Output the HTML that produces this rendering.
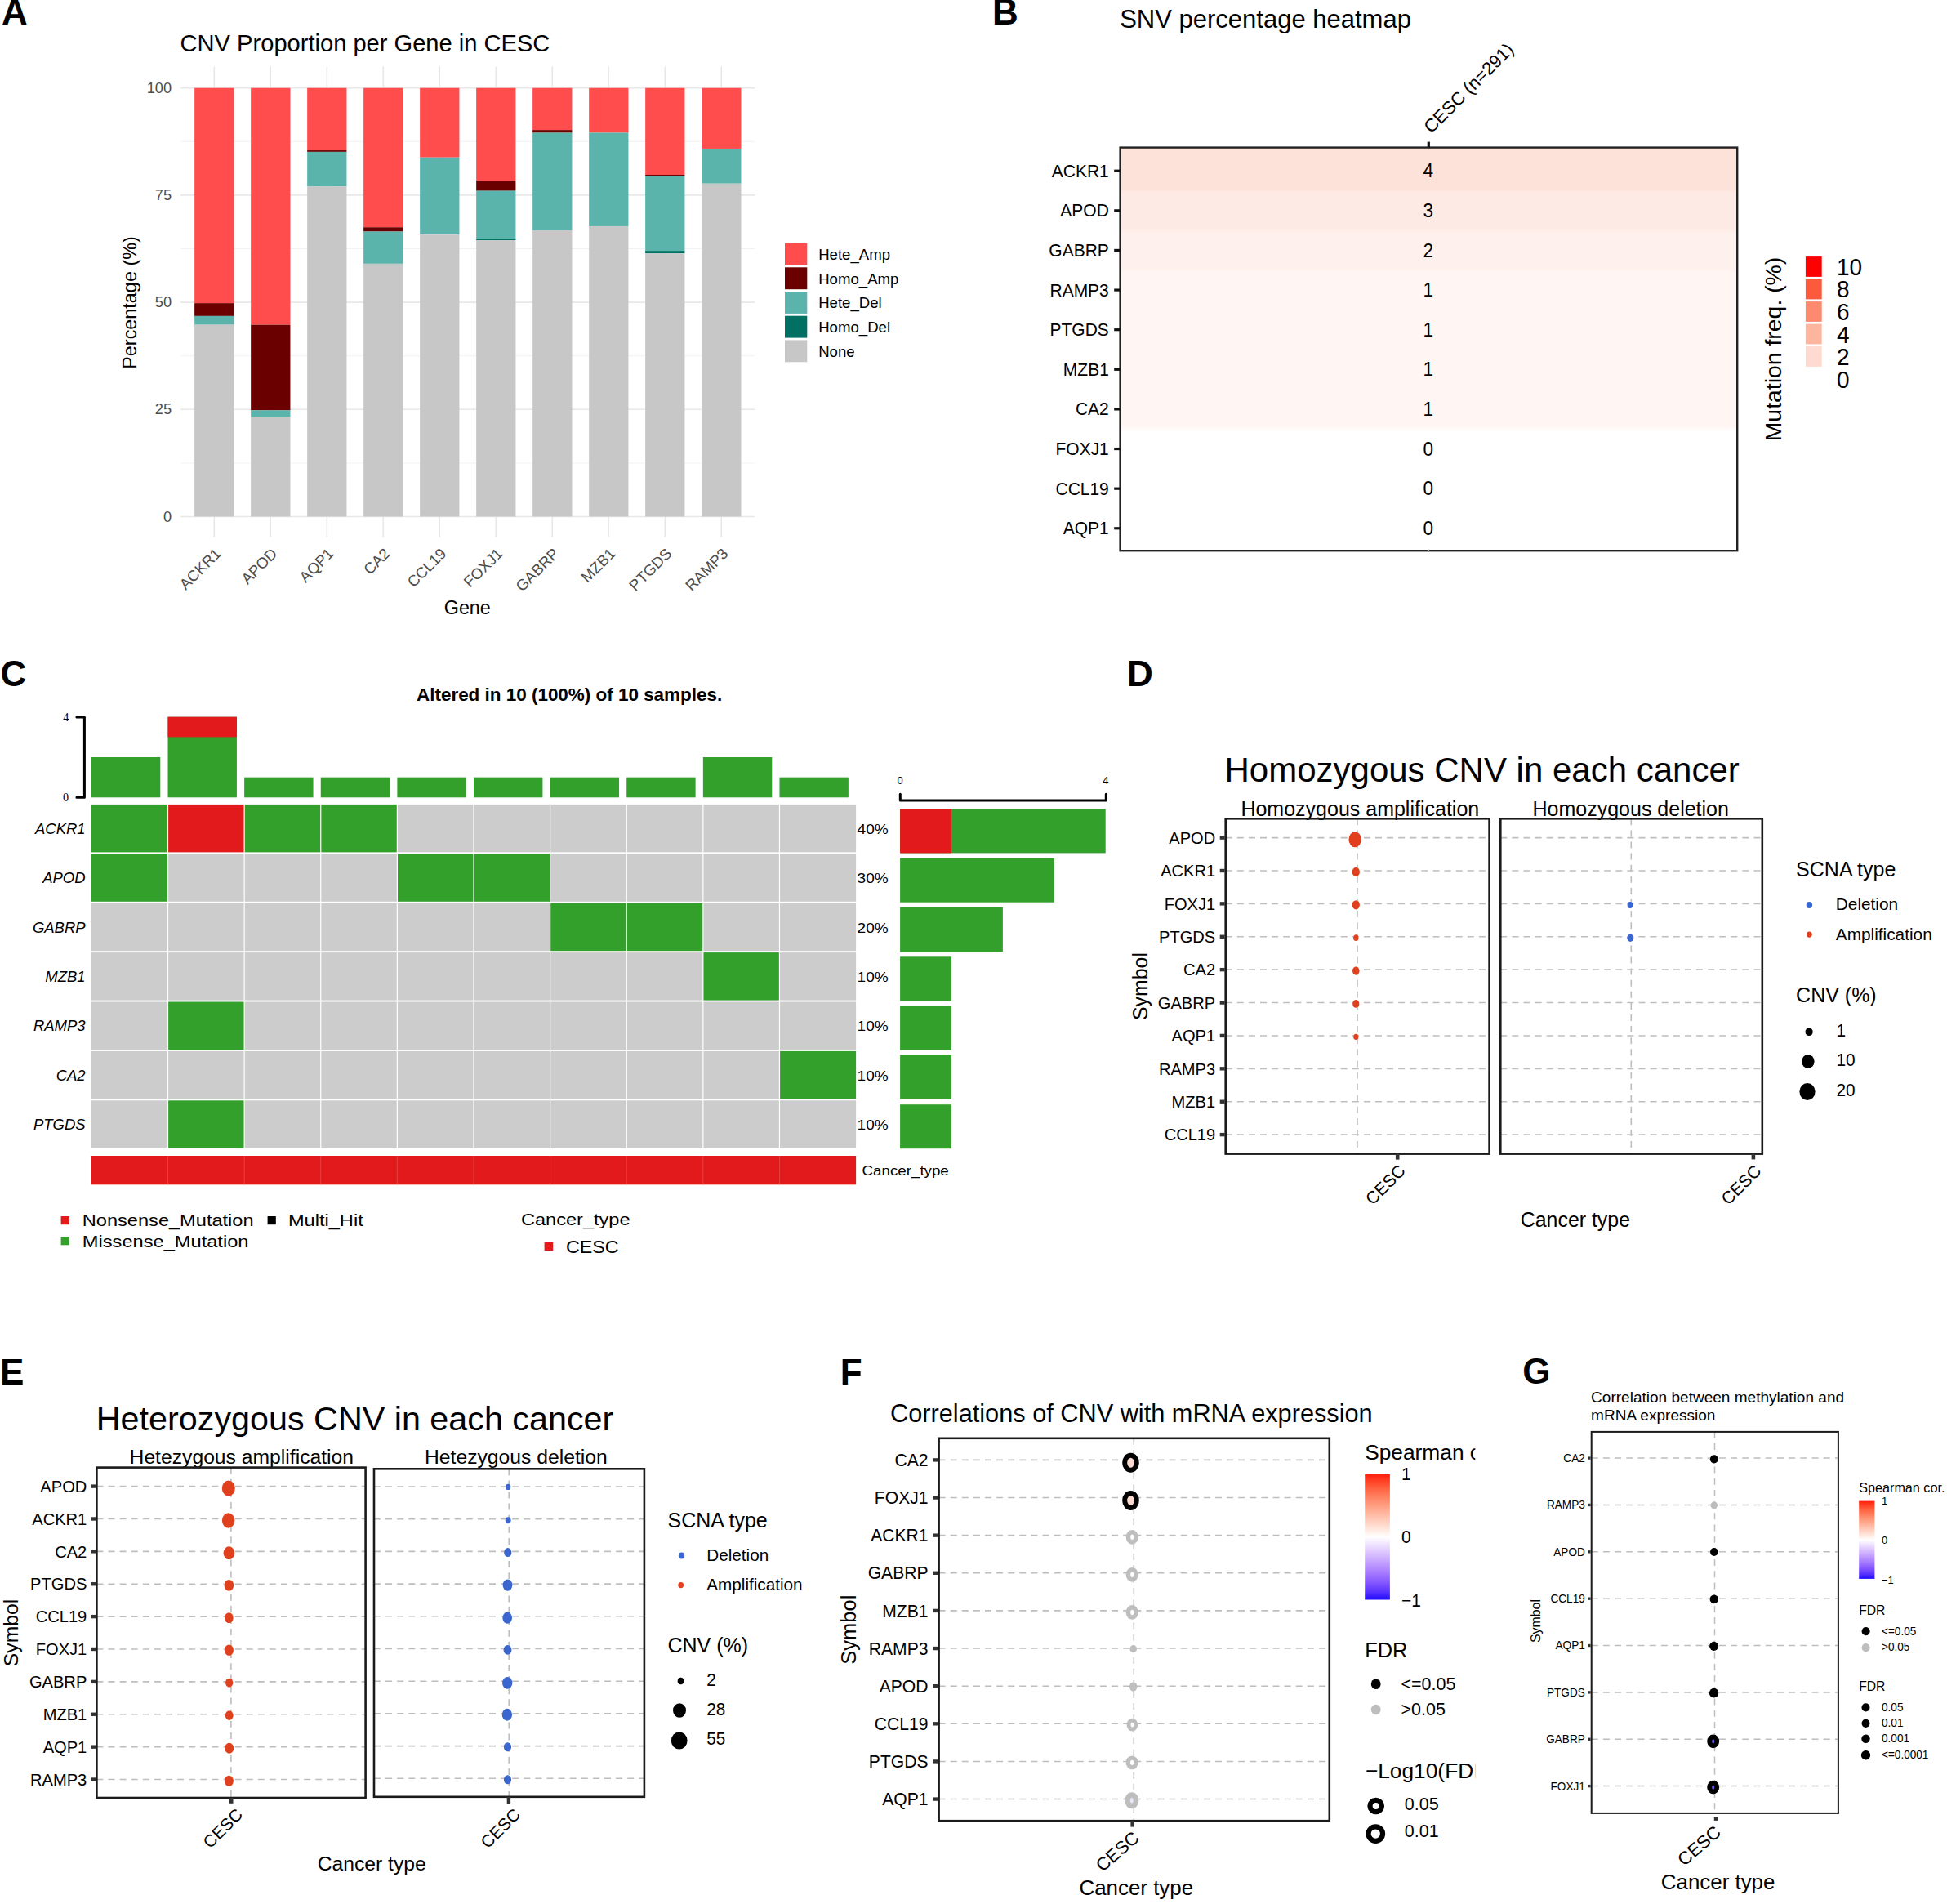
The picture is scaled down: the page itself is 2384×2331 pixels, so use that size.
<!DOCTYPE html>
<html lang="en">
<head>
<meta charset="utf-8">
<title>CNV / SNV / methylation summary in CESC</title>
<style>
html,body{margin:0;padding:0;background:#fff;}
body{width:2384px;height:2331px;overflow:hidden;}
svg{display:block;font-family:"Liberation Sans",Arial,Helvetica,sans-serif;}
</style>
</head>
<body>
<svg width="2384" height="2331" viewBox="0 0 2384 2331">
<rect x="0" y="0" width="2384" height="2331" fill="#FFFFFF"/>
<text x="2.05" y="29.7" font-size="44" font-weight="bold">A</text>
<text x="1215" y="29.7" font-size="44" font-weight="bold">B</text>
<text x="0.5" y="839.6" font-size="44" font-weight="bold">C</text>
<text x="1379.9" y="840" font-size="44" font-weight="bold">D</text>
<text x="0" y="1694.9" font-size="44" font-weight="bold">E</text>
<text x="1028.8" y="1694.9" font-size="44" font-weight="bold">F</text>
<text x="1864.3" y="1694.4" font-size="44" font-weight="bold">G</text>
<g id="panelA">
<text x="220.6" y="63" font-size="29.1">CNV Proportion per Gene in CESC</text>
<line x1="221" y1="566.9" x2="924.4" y2="566.9" stroke="#F0F0F0" stroke-width="0.9"/>
<line x1="221" y1="435.7" x2="924.4" y2="435.7" stroke="#F0F0F0" stroke-width="0.9"/>
<line x1="221" y1="304.5" x2="924.4" y2="304.5" stroke="#F0F0F0" stroke-width="0.9"/>
<line x1="221" y1="173.3" x2="924.4" y2="173.3" stroke="#F0F0F0" stroke-width="0.9"/>
<line x1="221" y1="632.5" x2="924.4" y2="632.5" stroke="#E8E8E8" stroke-width="1.6"/>
<line x1="221" y1="501.3" x2="924.4" y2="501.3" stroke="#E8E8E8" stroke-width="1.6"/>
<line x1="221" y1="370.1" x2="924.4" y2="370.1" stroke="#E8E8E8" stroke-width="1.6"/>
<line x1="221" y1="238.9" x2="924.4" y2="238.9" stroke="#E8E8E8" stroke-width="1.6"/>
<line x1="221" y1="107.7" x2="924.4" y2="107.7" stroke="#E8E8E8" stroke-width="1.6"/>
<line x1="262.3" y1="81.5" x2="262.3" y2="658" stroke="#E8E8E8" stroke-width="1.6"/>
<line x1="331.3" y1="81.5" x2="331.3" y2="658" stroke="#E8E8E8" stroke-width="1.6"/>
<line x1="400.3" y1="81.5" x2="400.3" y2="658" stroke="#E8E8E8" stroke-width="1.6"/>
<line x1="469.3" y1="81.5" x2="469.3" y2="658" stroke="#E8E8E8" stroke-width="1.6"/>
<line x1="538.3" y1="81.5" x2="538.3" y2="658" stroke="#E8E8E8" stroke-width="1.6"/>
<line x1="607.3" y1="81.5" x2="607.3" y2="658" stroke="#E8E8E8" stroke-width="1.6"/>
<line x1="676.3" y1="81.5" x2="676.3" y2="658" stroke="#E8E8E8" stroke-width="1.6"/>
<line x1="745.3" y1="81.5" x2="745.3" y2="658" stroke="#E8E8E8" stroke-width="1.6"/>
<line x1="814.3" y1="81.5" x2="814.3" y2="658" stroke="#E8E8E8" stroke-width="1.6"/>
<line x1="883.3" y1="81.5" x2="883.3" y2="658" stroke="#E8E8E8" stroke-width="1.6"/>
<rect x="238.15" y="107.7" width="48.3" height="263.45" fill="#FF4D4D"/>
<rect x="238.15" y="371.15" width="48.3" height="15.74" fill="#6B0000"/>
<rect x="238.15" y="386.89" width="48.3" height="10.76" fill="#5AB4AC"/>
<rect x="238.15" y="397.65" width="48.3" height="234.85" fill="#C7C7C7"/>
<rect x="307.15" y="107.7" width="48.3" height="289.95" fill="#FF4D4D"/>
<rect x="307.15" y="397.65" width="48.3" height="104.7" fill="#6B0000"/>
<rect x="307.15" y="502.35" width="48.3" height="7.87" fill="#5AB4AC"/>
<rect x="307.15" y="510.22" width="48.3" height="122.28" fill="#C7C7C7"/>
<rect x="376.15" y="107.7" width="48.3" height="76.36" fill="#FF4D4D"/>
<rect x="376.15" y="184.06" width="48.3" height="1.84" fill="#6B0000"/>
<rect x="376.15" y="185.9" width="48.3" height="42.51" fill="#5AB4AC"/>
<rect x="376.15" y="228.4" width="48.3" height="404.1" fill="#C7C7C7"/>
<rect x="445.15" y="107.7" width="48.3" height="170.56" fill="#FF4D4D"/>
<rect x="445.15" y="278.26" width="48.3" height="5.25" fill="#6B0000"/>
<rect x="445.15" y="283.51" width="48.3" height="39.36" fill="#5AB4AC"/>
<rect x="445.15" y="322.87" width="48.3" height="309.63" fill="#C7C7C7"/>
<rect x="514.15" y="107.7" width="48.3" height="85.02" fill="#FF4D4D"/>
<rect x="514.15" y="192.72" width="48.3" height="94.46" fill="#5AB4AC"/>
<rect x="514.15" y="287.18" width="48.3" height="345.32" fill="#C7C7C7"/>
<rect x="583.15" y="107.7" width="48.3" height="113.36" fill="#FF4D4D"/>
<rect x="583.15" y="221.06" width="48.3" height="12.6" fill="#6B0000"/>
<rect x="583.15" y="233.65" width="48.3" height="58.78" fill="#5AB4AC"/>
<rect x="583.15" y="292.43" width="48.3" height="1.84" fill="#017063"/>
<rect x="583.15" y="294.27" width="48.3" height="338.23" fill="#C7C7C7"/>
<rect x="652.15" y="107.7" width="48.3" height="51.43" fill="#FF4D4D"/>
<rect x="652.15" y="159.13" width="48.3" height="3.41" fill="#6B0000"/>
<rect x="652.15" y="162.54" width="48.3" height="119.39" fill="#5AB4AC"/>
<rect x="652.15" y="281.93" width="48.3" height="350.57" fill="#C7C7C7"/>
<rect x="721.15" y="107.7" width="48.3" height="54.84" fill="#FF4D4D"/>
<rect x="721.15" y="162.54" width="48.3" height="114.41" fill="#5AB4AC"/>
<rect x="721.15" y="276.95" width="48.3" height="355.55" fill="#C7C7C7"/>
<rect x="790.15" y="107.7" width="48.3" height="106.27" fill="#FF4D4D"/>
<rect x="790.15" y="213.97" width="48.3" height="1.84" fill="#6B0000"/>
<rect x="790.15" y="215.81" width="48.3" height="91.32" fill="#5AB4AC"/>
<rect x="790.15" y="307.12" width="48.3" height="3.15" fill="#017063"/>
<rect x="790.15" y="310.27" width="48.3" height="322.23" fill="#C7C7C7"/>
<rect x="859.15" y="107.7" width="48.3" height="74.26" fill="#FF4D4D"/>
<rect x="859.15" y="181.96" width="48.3" height="42.77" fill="#5AB4AC"/>
<rect x="859.15" y="224.73" width="48.3" height="407.77" fill="#C7C7C7"/>
<text transform="translate(210,638.5) scale(1,1.04)" font-size="18.2" text-anchor="end" fill="#4D4D4D">0</text>
<text transform="translate(210,507.3) scale(1,1.04)" font-size="18.2" text-anchor="end" fill="#4D4D4D">25</text>
<text transform="translate(210,376.1) scale(1,1.04)" font-size="18.2" text-anchor="end" fill="#4D4D4D">50</text>
<text transform="translate(210,244.9) scale(1,1.04)" font-size="18.2" text-anchor="end" fill="#4D4D4D">75</text>
<text transform="translate(210,113.7) scale(1,1.04)" font-size="18.2" text-anchor="end" fill="#4D4D4D">100</text>
<text transform="translate(271.6,678.9) rotate(-45)" font-size="18.7" text-anchor="end" fill="#4D4D4D">ACKR1</text>
<text transform="translate(340.6,678.9) rotate(-45)" font-size="18.7" text-anchor="end" fill="#4D4D4D">APOD</text>
<text transform="translate(409.6,678.9) rotate(-45)" font-size="18.7" text-anchor="end" fill="#4D4D4D">AQP1</text>
<text transform="translate(478.6,678.9) rotate(-45)" font-size="18.7" text-anchor="end" fill="#4D4D4D">CA2</text>
<text transform="translate(547.6,678.9) rotate(-45)" font-size="18.7" text-anchor="end" fill="#4D4D4D">CCL19</text>
<text transform="translate(616.6,678.9) rotate(-45)" font-size="18.7" text-anchor="end" fill="#4D4D4D">FOXJ1</text>
<text transform="translate(685.6,678.9) rotate(-45)" font-size="18.7" text-anchor="end" fill="#4D4D4D">GABRP</text>
<text transform="translate(754.6,678.9) rotate(-45)" font-size="18.7" text-anchor="end" fill="#4D4D4D">MZB1</text>
<text transform="translate(823.6,678.9) rotate(-45)" font-size="18.7" text-anchor="end" fill="#4D4D4D">PTGDS</text>
<text transform="translate(892.6,678.9) rotate(-45)" font-size="18.7" text-anchor="end" fill="#4D4D4D">RAMP3</text>
<text x="572.3" y="752" font-size="23.3" text-anchor="middle">Gene</text>
<text transform="translate(166.5,370.5) rotate(-90)" font-size="23.4" text-anchor="middle">Percentage (%)</text>
<rect x="961" y="297.6" width="27.3" height="26.9" fill="#FF4D4D"/>
<text x="1002.2" y="318" font-size="18.6">Hete_Amp</text>
<rect x="961" y="327.3" width="27.3" height="26.9" fill="#6B0000"/>
<text x="1002.2" y="347.7" font-size="18.6">Homo_Amp</text>
<rect x="961" y="357" width="27.3" height="26.9" fill="#5AB4AC"/>
<text x="1002.2" y="377.4" font-size="18.6">Hete_Del</text>
<rect x="961" y="386.7" width="27.3" height="26.9" fill="#017063"/>
<text x="1002.2" y="407.1" font-size="18.6">Homo_Del</text>
<rect x="961" y="416.4" width="27.3" height="26.9" fill="#C7C7C7"/>
<text x="1002.2" y="436.8" font-size="18.6">None</text>
</g>
<g id="panelB">
<text x="1371.2" y="33.8" font-size="31">SNV percentage heatmap</text>
<defs><linearGradient id="hm" x1="0" y1="0" x2="0" y2="1" gradientUnits="objectBoundingBox">
<stop offset="0%" stop-color="#FDE2DA"/>
<stop offset="10.11%" stop-color="#FDE2DA"/>
<stop offset="11.33%" stop-color="#FEEAE4"/>
<stop offset="19.96%" stop-color="#FEEAE4"/>
<stop offset="21.18%" stop-color="#FEF0EC"/>
<stop offset="29.81%" stop-color="#FEF0EC"/>
<stop offset="31.03%" stop-color="#FFF6F3"/>
<stop offset="39.66%" stop-color="#FFF6F3"/>
<stop offset="40.88%" stop-color="#FFF6F3"/>
<stop offset="49.51%" stop-color="#FFF6F3"/>
<stop offset="50.73%" stop-color="#FFF6F3"/>
<stop offset="59.36%" stop-color="#FFF6F3"/>
<stop offset="60.58%" stop-color="#FFF6F3"/>
<stop offset="69.21%" stop-color="#FFF6F3"/>
<stop offset="70.43%" stop-color="#FFFFFF"/>
<stop offset="79.06%" stop-color="#FFFFFF"/>
<stop offset="80.28%" stop-color="#FFFFFF"/>
<stop offset="88.91%" stop-color="#FFFFFF"/>
<stop offset="90.13%" stop-color="#FFFFFF"/>
<stop offset="100%" stop-color="#FFFFFF"/>
</linearGradient></defs>
<rect x="1371.6" y="180.6" width="755.6" height="493.6" fill="url(#hm)"/>
<rect x="1371.6" y="180.6" width="755.6" height="493.6" fill="none" stroke="#222" stroke-width="2.4"/>
<line x1="1364.2" y1="209.2" x2="1371.6" y2="209.2" stroke="#111" stroke-width="3.2"/>
<text transform="translate(1357.8,216.7) scale(1,1.04)" font-size="21" text-anchor="end">ACKR1</text>
<text transform="translate(1748.7,217.3) scale(1,1.04)" font-size="22.6" text-anchor="middle">4</text>
<line x1="1364.2" y1="257.82" x2="1371.6" y2="257.82" stroke="#111" stroke-width="3.2"/>
<text transform="translate(1357.8,265.32) scale(1,1.04)" font-size="21" text-anchor="end">APOD</text>
<text transform="translate(1748.7,265.92) scale(1,1.04)" font-size="22.6" text-anchor="middle">3</text>
<line x1="1364.2" y1="306.44" x2="1371.6" y2="306.44" stroke="#111" stroke-width="3.2"/>
<text transform="translate(1357.8,313.94) scale(1,1.04)" font-size="21" text-anchor="end">GABRP</text>
<text transform="translate(1748.7,314.54) scale(1,1.04)" font-size="22.6" text-anchor="middle">2</text>
<line x1="1364.2" y1="355.06" x2="1371.6" y2="355.06" stroke="#111" stroke-width="3.2"/>
<text transform="translate(1357.8,362.56) scale(1,1.04)" font-size="21" text-anchor="end">RAMP3</text>
<text transform="translate(1748.7,363.16) scale(1,1.04)" font-size="22.6" text-anchor="middle">1</text>
<line x1="1364.2" y1="403.68" x2="1371.6" y2="403.68" stroke="#111" stroke-width="3.2"/>
<text transform="translate(1357.8,411.18) scale(1,1.04)" font-size="21" text-anchor="end">PTGDS</text>
<text transform="translate(1748.7,411.78) scale(1,1.04)" font-size="22.6" text-anchor="middle">1</text>
<line x1="1364.2" y1="452.3" x2="1371.6" y2="452.3" stroke="#111" stroke-width="3.2"/>
<text transform="translate(1357.8,459.8) scale(1,1.04)" font-size="21" text-anchor="end">MZB1</text>
<text transform="translate(1748.7,460.4) scale(1,1.04)" font-size="22.6" text-anchor="middle">1</text>
<line x1="1364.2" y1="500.92" x2="1371.6" y2="500.92" stroke="#111" stroke-width="3.2"/>
<text transform="translate(1357.8,508.42) scale(1,1.04)" font-size="21" text-anchor="end">CA2</text>
<text transform="translate(1748.7,509.02) scale(1,1.04)" font-size="22.6" text-anchor="middle">1</text>
<line x1="1364.2" y1="549.54" x2="1371.6" y2="549.54" stroke="#111" stroke-width="3.2"/>
<text transform="translate(1357.8,557.04) scale(1,1.04)" font-size="21" text-anchor="end">FOXJ1</text>
<text transform="translate(1748.7,557.64) scale(1,1.04)" font-size="22.6" text-anchor="middle">0</text>
<line x1="1364.2" y1="598.16" x2="1371.6" y2="598.16" stroke="#111" stroke-width="3.2"/>
<text transform="translate(1357.8,605.66) scale(1,1.04)" font-size="21" text-anchor="end">CCL19</text>
<text transform="translate(1748.7,606.26) scale(1,1.04)" font-size="22.6" text-anchor="middle">0</text>
<line x1="1364.2" y1="646.78" x2="1371.6" y2="646.78" stroke="#111" stroke-width="3.2"/>
<text transform="translate(1357.8,654.28) scale(1,1.04)" font-size="21" text-anchor="end">AQP1</text>
<text transform="translate(1748.7,654.88) scale(1,1.04)" font-size="22.6" text-anchor="middle">0</text>
<line x1="1749.3" y1="173.6" x2="1749.3" y2="180.6" stroke="#111" stroke-width="3.2"/>
<line x1="1749.3" y1="672.5" x2="1749.3" y2="674.2" stroke="#bbb" stroke-width="1"/>
<text transform="translate(1752.52,164.19) rotate(-45)" font-size="22.13">CESC (n=291)</text>
<rect x="2210.9" y="314.1" width="19.8" height="24.8" fill="#FF0000"/>
<text transform="translate(2249,336.8) scale(1,1.04)" font-size="28">10</text>
<rect x="2210.9" y="341.6" width="19.8" height="24.8" fill="#FB5A3C"/>
<text transform="translate(2249,364.44) scale(1,1.04)" font-size="28">8</text>
<rect x="2210.9" y="369.1" width="19.8" height="24.8" fill="#FC8A6E"/>
<text transform="translate(2249,392.08) scale(1,1.04)" font-size="28">6</text>
<rect x="2210.9" y="396.6" width="19.8" height="24.8" fill="#FDB5A0"/>
<text transform="translate(2249,419.72) scale(1,1.04)" font-size="28">4</text>
<rect x="2210.9" y="424.1" width="19.8" height="24.8" fill="#FEDAD0"/>
<text transform="translate(2249,447.36) scale(1,1.04)" font-size="28">2</text>
<rect x="2210.9" y="451.6" width="19.8" height="24.8" fill="#FFFFFF"/>
<text transform="translate(2249,475) scale(1,1.04)" font-size="28">0</text>
<text transform="translate(2181.1,427.5) rotate(-90)" font-size="28.4" text-anchor="middle">Mutation freq. (%)</text>
</g>
<g id="panelC">
<text x="510" y="858.2" font-size="21.9" font-weight="bold" textLength="374.2" lengthAdjust="spacingAndGlyphs">Altered in 10 (100%) of 10 samples.</text>
<path d="M93.9 878H103.4V976.2H93.9" fill="none" stroke="#000" stroke-width="3" stroke-linejoin="round" stroke-linecap="round"/>
<text x="80.7" y="882.8" font-size="14.2" text-anchor="middle" font-family="Liberation Serif, serif">4</text>
<text x="80.6" y="980.5" font-size="14.2" text-anchor="middle" font-family="Liberation Serif, serif">0</text>
<rect x="111.9" y="927" width="84.4" height="49.3" fill="#33A02C"/>
<rect x="205.52" y="877.7" width="84.4" height="98.6" fill="#33A02C"/>
<rect x="205.52" y="877.7" width="84.4" height="24.65" fill="#E31A1C"/>
<rect x="299.14" y="951.65" width="84.4" height="24.65" fill="#33A02C"/>
<rect x="392.76" y="951.65" width="84.4" height="24.65" fill="#33A02C"/>
<rect x="486.38" y="951.65" width="84.4" height="24.65" fill="#33A02C"/>
<rect x="580" y="951.65" width="84.4" height="24.65" fill="#33A02C"/>
<rect x="673.62" y="951.65" width="84.4" height="24.65" fill="#33A02C"/>
<rect x="767.24" y="951.65" width="84.4" height="24.65" fill="#33A02C"/>
<rect x="860.86" y="927" width="84.4" height="49.3" fill="#33A02C"/>
<rect x="954.48" y="951.65" width="84.4" height="24.65" fill="#33A02C"/>
<rect x="111.9" y="984.9" width="93.02" height="58.5" fill="#33A02C"/>
<rect x="206.12" y="984.9" width="92.42" height="58.5" fill="#E31A1C"/>
<rect x="299.74" y="984.9" width="92.42" height="58.5" fill="#33A02C"/>
<rect x="393.36" y="984.9" width="92.42" height="58.5" fill="#33A02C"/>
<rect x="486.98" y="984.9" width="92.42" height="58.5" fill="#CCCCCC"/>
<rect x="580.6" y="984.9" width="92.42" height="58.5" fill="#CCCCCC"/>
<rect x="674.22" y="984.9" width="92.42" height="58.5" fill="#CCCCCC"/>
<rect x="767.84" y="984.9" width="92.42" height="58.5" fill="#CCCCCC"/>
<rect x="861.46" y="984.9" width="92.42" height="58.5" fill="#CCCCCC"/>
<rect x="955.08" y="984.9" width="93.02" height="58.5" fill="#CCCCCC"/>
<text transform="translate(104.6,1020.85) scale(1,1.04)" font-size="17.2" text-anchor="end" font-style="italic" textLength="61.65" lengthAdjust="spacingAndGlyphs">ACKR1</text>
<text transform="translate(1049.6,1020.85) scale(1,1.04)" font-size="16.2" textLength="38.2" lengthAdjust="spacingAndGlyphs">40%</text>
<rect x="111.9" y="1045.3" width="93.02" height="58.5" fill="#33A02C"/>
<rect x="206.12" y="1045.3" width="92.42" height="58.5" fill="#CCCCCC"/>
<rect x="299.74" y="1045.3" width="92.42" height="58.5" fill="#CCCCCC"/>
<rect x="393.36" y="1045.3" width="92.42" height="58.5" fill="#CCCCCC"/>
<rect x="486.98" y="1045.3" width="92.42" height="58.5" fill="#33A02C"/>
<rect x="580.6" y="1045.3" width="92.42" height="58.5" fill="#33A02C"/>
<rect x="674.22" y="1045.3" width="92.42" height="58.5" fill="#CCCCCC"/>
<rect x="767.84" y="1045.3" width="92.42" height="58.5" fill="#CCCCCC"/>
<rect x="861.46" y="1045.3" width="92.42" height="58.5" fill="#CCCCCC"/>
<rect x="955.08" y="1045.3" width="93.02" height="58.5" fill="#CCCCCC"/>
<text transform="translate(104.6,1081.25) scale(1,1.04)" font-size="17.2" text-anchor="end" font-style="italic" textLength="52.4" lengthAdjust="spacingAndGlyphs">APOD</text>
<text transform="translate(1049.6,1081.25) scale(1,1.04)" font-size="16.2" textLength="38.2" lengthAdjust="spacingAndGlyphs">30%</text>
<rect x="111.9" y="1105.7" width="93.02" height="58.5" fill="#CCCCCC"/>
<rect x="206.12" y="1105.7" width="92.42" height="58.5" fill="#CCCCCC"/>
<rect x="299.74" y="1105.7" width="92.42" height="58.5" fill="#CCCCCC"/>
<rect x="393.36" y="1105.7" width="92.42" height="58.5" fill="#CCCCCC"/>
<rect x="486.98" y="1105.7" width="92.42" height="58.5" fill="#CCCCCC"/>
<rect x="580.6" y="1105.7" width="92.42" height="58.5" fill="#CCCCCC"/>
<rect x="674.22" y="1105.7" width="92.42" height="58.5" fill="#33A02C"/>
<rect x="767.84" y="1105.7" width="92.42" height="58.5" fill="#33A02C"/>
<rect x="861.46" y="1105.7" width="92.42" height="58.5" fill="#CCCCCC"/>
<rect x="955.08" y="1105.7" width="93.02" height="58.5" fill="#CCCCCC"/>
<text transform="translate(104.6,1141.65) scale(1,1.04)" font-size="17.2" text-anchor="end" font-style="italic" textLength="64.73" lengthAdjust="spacingAndGlyphs">GABRP</text>
<text transform="translate(1049.6,1141.65) scale(1,1.04)" font-size="16.2" textLength="38.2" lengthAdjust="spacingAndGlyphs">20%</text>
<rect x="111.9" y="1166.1" width="93.02" height="58.5" fill="#CCCCCC"/>
<rect x="206.12" y="1166.1" width="92.42" height="58.5" fill="#CCCCCC"/>
<rect x="299.74" y="1166.1" width="92.42" height="58.5" fill="#CCCCCC"/>
<rect x="393.36" y="1166.1" width="92.42" height="58.5" fill="#CCCCCC"/>
<rect x="486.98" y="1166.1" width="92.42" height="58.5" fill="#CCCCCC"/>
<rect x="580.6" y="1166.1" width="92.42" height="58.5" fill="#CCCCCC"/>
<rect x="674.22" y="1166.1" width="92.42" height="58.5" fill="#CCCCCC"/>
<rect x="767.84" y="1166.1" width="92.42" height="58.5" fill="#CCCCCC"/>
<rect x="861.46" y="1166.1" width="92.42" height="58.5" fill="#33A02C"/>
<rect x="955.08" y="1166.1" width="93.02" height="58.5" fill="#CCCCCC"/>
<text transform="translate(104.6,1202.05) scale(1,1.04)" font-size="17.2" text-anchor="end" font-style="italic" textLength="49.31" lengthAdjust="spacingAndGlyphs">MZB1</text>
<text transform="translate(1049.6,1202.05) scale(1,1.04)" font-size="16.2" textLength="38.2" lengthAdjust="spacingAndGlyphs">10%</text>
<rect x="111.9" y="1226.5" width="93.02" height="58.5" fill="#CCCCCC"/>
<rect x="206.12" y="1226.5" width="92.42" height="58.5" fill="#33A02C"/>
<rect x="299.74" y="1226.5" width="92.42" height="58.5" fill="#CCCCCC"/>
<rect x="393.36" y="1226.5" width="92.42" height="58.5" fill="#CCCCCC"/>
<rect x="486.98" y="1226.5" width="92.42" height="58.5" fill="#CCCCCC"/>
<rect x="580.6" y="1226.5" width="92.42" height="58.5" fill="#CCCCCC"/>
<rect x="674.22" y="1226.5" width="92.42" height="58.5" fill="#CCCCCC"/>
<rect x="767.84" y="1226.5" width="92.42" height="58.5" fill="#CCCCCC"/>
<rect x="861.46" y="1226.5" width="92.42" height="58.5" fill="#CCCCCC"/>
<rect x="955.08" y="1226.5" width="93.02" height="58.5" fill="#CCCCCC"/>
<text transform="translate(104.6,1262.45) scale(1,1.04)" font-size="17.2" text-anchor="end" font-style="italic" textLength="63.7" lengthAdjust="spacingAndGlyphs">RAMP3</text>
<text transform="translate(1049.6,1262.45) scale(1,1.04)" font-size="16.2" textLength="38.2" lengthAdjust="spacingAndGlyphs">10%</text>
<rect x="111.9" y="1286.9" width="93.02" height="58.5" fill="#CCCCCC"/>
<rect x="206.12" y="1286.9" width="92.42" height="58.5" fill="#CCCCCC"/>
<rect x="299.74" y="1286.9" width="92.42" height="58.5" fill="#CCCCCC"/>
<rect x="393.36" y="1286.9" width="92.42" height="58.5" fill="#CCCCCC"/>
<rect x="486.98" y="1286.9" width="92.42" height="58.5" fill="#CCCCCC"/>
<rect x="580.6" y="1286.9" width="92.42" height="58.5" fill="#CCCCCC"/>
<rect x="674.22" y="1286.9" width="92.42" height="58.5" fill="#CCCCCC"/>
<rect x="767.84" y="1286.9" width="92.42" height="58.5" fill="#CCCCCC"/>
<rect x="861.46" y="1286.9" width="92.42" height="58.5" fill="#CCCCCC"/>
<rect x="955.08" y="1286.9" width="93.02" height="58.5" fill="#33A02C"/>
<text transform="translate(104.6,1322.85) scale(1,1.04)" font-size="17.2" text-anchor="end" font-style="italic" textLength="35.97" lengthAdjust="spacingAndGlyphs">CA2</text>
<text transform="translate(1049.6,1322.85) scale(1,1.04)" font-size="16.2" textLength="38.2" lengthAdjust="spacingAndGlyphs">10%</text>
<rect x="111.9" y="1347.3" width="93.02" height="58.5" fill="#CCCCCC"/>
<rect x="206.12" y="1347.3" width="92.42" height="58.5" fill="#33A02C"/>
<rect x="299.74" y="1347.3" width="92.42" height="58.5" fill="#CCCCCC"/>
<rect x="393.36" y="1347.3" width="92.42" height="58.5" fill="#CCCCCC"/>
<rect x="486.98" y="1347.3" width="92.42" height="58.5" fill="#CCCCCC"/>
<rect x="580.6" y="1347.3" width="92.42" height="58.5" fill="#CCCCCC"/>
<rect x="674.22" y="1347.3" width="92.42" height="58.5" fill="#CCCCCC"/>
<rect x="767.84" y="1347.3" width="92.42" height="58.5" fill="#CCCCCC"/>
<rect x="861.46" y="1347.3" width="92.42" height="58.5" fill="#CCCCCC"/>
<rect x="955.08" y="1347.3" width="93.02" height="58.5" fill="#CCCCCC"/>
<text transform="translate(104.6,1383.25) scale(1,1.04)" font-size="17.2" text-anchor="end" font-style="italic" textLength="63.7" lengthAdjust="spacingAndGlyphs">PTGDS</text>
<text transform="translate(1049.6,1383.25) scale(1,1.04)" font-size="16.2" textLength="38.2" lengthAdjust="spacingAndGlyphs">10%</text>
<rect x="111.9" y="1415" width="936.2" height="35.3" fill="#E31A1C"/>
<line x1="205.52" y1="1415" x2="205.52" y2="1450.3" stroke="#EA4A4B" stroke-width="0.8"/>
<line x1="299.14" y1="1415" x2="299.14" y2="1450.3" stroke="#EA4A4B" stroke-width="0.8"/>
<line x1="392.76" y1="1415" x2="392.76" y2="1450.3" stroke="#EA4A4B" stroke-width="0.8"/>
<line x1="486.38" y1="1415" x2="486.38" y2="1450.3" stroke="#EA4A4B" stroke-width="0.8"/>
<line x1="580" y1="1415" x2="580" y2="1450.3" stroke="#EA4A4B" stroke-width="0.8"/>
<line x1="673.62" y1="1415" x2="673.62" y2="1450.3" stroke="#EA4A4B" stroke-width="0.8"/>
<line x1="767.24" y1="1415" x2="767.24" y2="1450.3" stroke="#EA4A4B" stroke-width="0.8"/>
<line x1="860.86" y1="1415" x2="860.86" y2="1450.3" stroke="#EA4A4B" stroke-width="0.8"/>
<line x1="954.48" y1="1415" x2="954.48" y2="1450.3" stroke="#EA4A4B" stroke-width="0.8"/>
<text x="1055.6" y="1438.8" font-size="16.6" textLength="106.2" lengthAdjust="spacingAndGlyphs">Cancer_type</text>
<path d="M1102.3 972.2V980.1H1354.3V972.2" fill="none" stroke="#000" stroke-width="3" stroke-linejoin="round" stroke-linecap="round"/>
<text transform="translate(1102,960) scale(1,1.04)" font-size="13" text-anchor="middle">0</text>
<text transform="translate(1353.9,960) scale(1,1.04)" font-size="13" text-anchor="middle">4</text>
<rect x="1102.1" y="990.4" width="251.6" height="54" fill="#33A02C"/>
<rect x="1102.1" y="990.4" width="62.9" height="54" fill="#E31A1C"/>
<rect x="1102.1" y="1050.7" width="188.7" height="54" fill="#33A02C"/>
<rect x="1102.1" y="1111" width="125.8" height="54" fill="#33A02C"/>
<rect x="1102.1" y="1171.3" width="62.9" height="54" fill="#33A02C"/>
<rect x="1102.1" y="1231.6" width="62.9" height="54" fill="#33A02C"/>
<rect x="1102.1" y="1291.9" width="62.9" height="54" fill="#33A02C"/>
<rect x="1102.1" y="1352.2" width="62.9" height="54" fill="#33A02C"/>
<rect x="74.6" y="1489" width="10.2" height="10.2" fill="#E31A1C"/>
<text x="100.8" y="1501.3" font-size="20.3" textLength="209.8" lengthAdjust="spacingAndGlyphs">Nonsense_Mutation</text>
<rect x="327.6" y="1489" width="10.2" height="10.2" fill="#000"/>
<text x="352.9" y="1501.3" font-size="20.3" textLength="91.8" lengthAdjust="spacingAndGlyphs">Multi_Hit</text>
<rect x="74.6" y="1514.1" width="10.2" height="10.2" fill="#33A02C"/>
<text x="100.8" y="1526.6" font-size="20.3" textLength="203.7" lengthAdjust="spacingAndGlyphs">Missense_Mutation</text>
<text x="637.9" y="1500.3" font-size="21" textLength="133.7" lengthAdjust="spacingAndGlyphs">Cancer_type</text>
<rect x="666.6" y="1521" width="10.6" height="10.2" fill="#E31A1C"/>
<text transform="translate(693,1533.5) scale(1,1.04)" font-size="21" textLength="64.7" lengthAdjust="spacingAndGlyphs">CESC</text>
</g>
<g id="panelD">
<text x="1499.5" y="956.6" font-size="42">Homozygous CNV in each cancer</text>
<text x="1665.3" y="998.6" font-size="25" text-anchor="middle">Homozygous amplification</text>
<text x="1996.7" y="999.2" font-size="25" text-anchor="middle">Homozygous deletion</text>
<line x1="1500.7" y1="1025.6" x2="1823.6" y2="1025.6" stroke="#BEBEBE" stroke-width="1.6" stroke-dasharray="8 6.1"/>
<line x1="1837.3" y1="1025.6" x2="2157.8" y2="1025.6" stroke="#BEBEBE" stroke-width="1.6" stroke-dasharray="8 6.1"/>
<line x1="1493.7" y1="1025.6" x2="1499.6" y2="1025.6" stroke="#333333" stroke-width="4.4"/>
<text transform="translate(1488.2,1032.8) scale(1,1.04)" font-size="20.1" text-anchor="end">APOD</text>
<line x1="1500.7" y1="1065.99" x2="1823.6" y2="1065.99" stroke="#BEBEBE" stroke-width="1.6" stroke-dasharray="8 6.1"/>
<line x1="1837.3" y1="1065.99" x2="2157.8" y2="1065.99" stroke="#BEBEBE" stroke-width="1.6" stroke-dasharray="8 6.1"/>
<line x1="1493.7" y1="1065.99" x2="1499.6" y2="1065.99" stroke="#333333" stroke-width="4.4"/>
<text transform="translate(1488.2,1073.19) scale(1,1.04)" font-size="20.1" text-anchor="end">ACKR1</text>
<line x1="1500.7" y1="1106.38" x2="1823.6" y2="1106.38" stroke="#BEBEBE" stroke-width="1.6" stroke-dasharray="8 6.1"/>
<line x1="1837.3" y1="1106.38" x2="2157.8" y2="1106.38" stroke="#BEBEBE" stroke-width="1.6" stroke-dasharray="8 6.1"/>
<line x1="1493.7" y1="1106.38" x2="1499.6" y2="1106.38" stroke="#333333" stroke-width="4.4"/>
<text transform="translate(1488.2,1113.58) scale(1,1.04)" font-size="20.1" text-anchor="end">FOXJ1</text>
<line x1="1500.7" y1="1146.77" x2="1823.6" y2="1146.77" stroke="#BEBEBE" stroke-width="1.6" stroke-dasharray="8 6.1"/>
<line x1="1837.3" y1="1146.77" x2="2157.8" y2="1146.77" stroke="#BEBEBE" stroke-width="1.6" stroke-dasharray="8 6.1"/>
<line x1="1493.7" y1="1146.77" x2="1499.6" y2="1146.77" stroke="#333333" stroke-width="4.4"/>
<text transform="translate(1488.2,1153.97) scale(1,1.04)" font-size="20.1" text-anchor="end">PTGDS</text>
<line x1="1500.7" y1="1187.16" x2="1823.6" y2="1187.16" stroke="#BEBEBE" stroke-width="1.6" stroke-dasharray="8 6.1"/>
<line x1="1837.3" y1="1187.16" x2="2157.8" y2="1187.16" stroke="#BEBEBE" stroke-width="1.6" stroke-dasharray="8 6.1"/>
<line x1="1493.7" y1="1187.16" x2="1499.6" y2="1187.16" stroke="#333333" stroke-width="4.4"/>
<text transform="translate(1488.2,1194.36) scale(1,1.04)" font-size="20.1" text-anchor="end">CA2</text>
<line x1="1500.7" y1="1227.55" x2="1823.6" y2="1227.55" stroke="#BEBEBE" stroke-width="1.6" stroke-dasharray="8 6.1"/>
<line x1="1837.3" y1="1227.55" x2="2157.8" y2="1227.55" stroke="#BEBEBE" stroke-width="1.6" stroke-dasharray="8 6.1"/>
<line x1="1493.7" y1="1227.55" x2="1499.6" y2="1227.55" stroke="#333333" stroke-width="4.4"/>
<text transform="translate(1488.2,1234.75) scale(1,1.04)" font-size="20.1" text-anchor="end">GABRP</text>
<line x1="1500.7" y1="1267.94" x2="1823.6" y2="1267.94" stroke="#BEBEBE" stroke-width="1.6" stroke-dasharray="8 6.1"/>
<line x1="1837.3" y1="1267.94" x2="2157.8" y2="1267.94" stroke="#BEBEBE" stroke-width="1.6" stroke-dasharray="8 6.1"/>
<line x1="1493.7" y1="1267.94" x2="1499.6" y2="1267.94" stroke="#333333" stroke-width="4.4"/>
<text transform="translate(1488.2,1275.14) scale(1,1.04)" font-size="20.1" text-anchor="end">AQP1</text>
<line x1="1500.7" y1="1308.33" x2="1823.6" y2="1308.33" stroke="#BEBEBE" stroke-width="1.6" stroke-dasharray="8 6.1"/>
<line x1="1837.3" y1="1308.33" x2="2157.8" y2="1308.33" stroke="#BEBEBE" stroke-width="1.6" stroke-dasharray="8 6.1"/>
<line x1="1493.7" y1="1308.33" x2="1499.6" y2="1308.33" stroke="#333333" stroke-width="4.4"/>
<text transform="translate(1488.2,1315.53) scale(1,1.04)" font-size="20.1" text-anchor="end">RAMP3</text>
<line x1="1500.7" y1="1348.72" x2="1823.6" y2="1348.72" stroke="#BEBEBE" stroke-width="1.6" stroke-dasharray="8 6.1"/>
<line x1="1837.3" y1="1348.72" x2="2157.8" y2="1348.72" stroke="#BEBEBE" stroke-width="1.6" stroke-dasharray="8 6.1"/>
<line x1="1493.7" y1="1348.72" x2="1499.6" y2="1348.72" stroke="#333333" stroke-width="4.4"/>
<text transform="translate(1488.2,1355.92) scale(1,1.04)" font-size="20.1" text-anchor="end">MZB1</text>
<line x1="1500.7" y1="1389.11" x2="1823.6" y2="1389.11" stroke="#BEBEBE" stroke-width="1.6" stroke-dasharray="8 6.1"/>
<line x1="1837.3" y1="1389.11" x2="2157.8" y2="1389.11" stroke="#BEBEBE" stroke-width="1.6" stroke-dasharray="8 6.1"/>
<line x1="1493.7" y1="1389.11" x2="1499.6" y2="1389.11" stroke="#333333" stroke-width="4.4"/>
<text transform="translate(1488.2,1396.31) scale(1,1.04)" font-size="20.1" text-anchor="end">CCL19</text>
<line x1="1662" y1="1002.3" x2="1662" y2="1412.6" stroke="#BEBEBE" stroke-width="1.6" stroke-dasharray="8 6.1"/>
<line x1="1997.3" y1="1002.3" x2="1997.3" y2="1412.6" stroke="#BEBEBE" stroke-width="1.6" stroke-dasharray="8 6.1"/>
<rect x="1500.7" y="1002.3" width="322.9" height="410.3" fill="none" stroke="#1A1A1A" stroke-width="2.6"/>
<rect x="1837.3" y="1002.3" width="320.5" height="410.3" fill="none" stroke="#1A1A1A" stroke-width="2.6"/>
<ellipse cx="1659.2" cy="1027.8" rx="7.7" ry="9.5" fill="#E0401E"/>
<ellipse cx="1660.3" cy="1067.39" rx="4.6" ry="5.6" fill="#E0401E"/>
<ellipse cx="1660.3" cy="1107.78" rx="4.6" ry="5.6" fill="#E0401E"/>
<ellipse cx="1660.3" cy="1148.17" rx="3.1" ry="3.85" fill="#E0401E"/>
<ellipse cx="1660.3" cy="1188.56" rx="4.3" ry="5.1" fill="#E0401E"/>
<ellipse cx="1660.3" cy="1228.95" rx="4.1" ry="4.9" fill="#E0401E"/>
<ellipse cx="1660.3" cy="1269.34" rx="3.1" ry="3.7" fill="#E0401E"/>
<ellipse cx="1996" cy="1107.98" rx="3.4" ry="4" fill="#3B66D0"/>
<ellipse cx="1996.3" cy="1148.37" rx="4" ry="4.6" fill="#3B66D0"/>
<rect x="1708.9" y="1412.6" width="4.6" height="7" fill="#333333"/>
<rect x="2144.6" y="1412.6" width="4.6" height="6.8" fill="#333333"/>
<text transform="translate(1680.77,1476.22) rotate(-45)" font-size="21.06">CESC</text>
<text transform="translate(2116.32,1476.37) rotate(-45)" font-size="21.06">CESC</text>
<text x="1928.9" y="1502.2" font-size="24.9" text-anchor="middle">Cancer type</text>
<text transform="translate(1405.3,1207.5) rotate(-90)" font-size="24.9" text-anchor="middle">Symbol</text>
<text x="2199.1" y="1072.6" font-size="25">SCNA type</text>
<ellipse cx="2215.4" cy="1108" rx="3.7" ry="3.9" fill="#3B66D0"/>
<ellipse cx="2215.4" cy="1144.1" rx="3.4" ry="3.6" fill="#E0401E"/>
<text x="2247.8" y="1114.4" font-size="20.8">Deletion</text>
<text x="2247.8" y="1151.2" font-size="20.8">Amplification</text>
<text transform="translate(2199.1,1227.3) scale(1,1.04)" font-size="25">CNV (%)</text>
<ellipse cx="2215.1" cy="1263.2" rx="4.6" ry="4.9" fill="#000"/>
<ellipse cx="2213.9" cy="1299.4" rx="7.7" ry="8.5" fill="#000"/>
<ellipse cx="2213" cy="1336.5" rx="9.6" ry="10.5" fill="#000"/>
<text transform="translate(2248.4,1269) scale(1,1.04)" font-size="20.8">1</text>
<text transform="translate(2248.4,1305) scale(1,1.04)" font-size="20.8">10</text>
<text transform="translate(2248.4,1341.8) scale(1,1.04)" font-size="20.8">20</text>
</g>
<g id="panelE">
<text x="117.8" y="1751" font-size="41.3">Heterozygous CNV in each cancer</text>
<text x="295.8" y="1792.4" font-size="24.7" text-anchor="middle">Hetezygous amplification</text>
<text x="631.9" y="1792.4" font-size="24.7" text-anchor="middle">Hetezygous deletion</text>
<line x1="118.4" y1="1819.6" x2="447.6" y2="1819.6" stroke="#BEBEBE" stroke-width="1.6" stroke-dasharray="8 6.1"/>
<line x1="458" y1="1820" x2="788.9" y2="1820" stroke="#BEBEBE" stroke-width="1.6" stroke-dasharray="8 6.1"/>
<line x1="111.4" y1="1819.6" x2="117.3" y2="1819.6" stroke="#333333" stroke-width="4.4"/>
<text transform="translate(106.3,1826.8) scale(1,1.04)" font-size="20.1" text-anchor="end">APOD</text>
<line x1="118.4" y1="1859.48" x2="447.6" y2="1859.48" stroke="#BEBEBE" stroke-width="1.6" stroke-dasharray="8 6.1"/>
<line x1="458" y1="1859.7" x2="788.9" y2="1859.7" stroke="#BEBEBE" stroke-width="1.6" stroke-dasharray="8 6.1"/>
<line x1="111.4" y1="1859.48" x2="117.3" y2="1859.48" stroke="#333333" stroke-width="4.4"/>
<text transform="translate(106.3,1866.68) scale(1,1.04)" font-size="20.1" text-anchor="end">ACKR1</text>
<line x1="118.4" y1="1899.36" x2="447.6" y2="1899.36" stroke="#BEBEBE" stroke-width="1.6" stroke-dasharray="8 6.1"/>
<line x1="458" y1="1899.4" x2="788.9" y2="1899.4" stroke="#BEBEBE" stroke-width="1.6" stroke-dasharray="8 6.1"/>
<line x1="111.4" y1="1899.36" x2="117.3" y2="1899.36" stroke="#333333" stroke-width="4.4"/>
<text transform="translate(106.3,1906.56) scale(1,1.04)" font-size="20.1" text-anchor="end">CA2</text>
<line x1="118.4" y1="1939.24" x2="447.6" y2="1939.24" stroke="#BEBEBE" stroke-width="1.6" stroke-dasharray="8 6.1"/>
<line x1="458" y1="1939.1" x2="788.9" y2="1939.1" stroke="#BEBEBE" stroke-width="1.6" stroke-dasharray="8 6.1"/>
<line x1="111.4" y1="1939.24" x2="117.3" y2="1939.24" stroke="#333333" stroke-width="4.4"/>
<text transform="translate(106.3,1946.44) scale(1,1.04)" font-size="20.1" text-anchor="end">PTGDS</text>
<line x1="118.4" y1="1979.12" x2="447.6" y2="1979.12" stroke="#BEBEBE" stroke-width="1.6" stroke-dasharray="8 6.1"/>
<line x1="458" y1="1978.8" x2="788.9" y2="1978.8" stroke="#BEBEBE" stroke-width="1.6" stroke-dasharray="8 6.1"/>
<line x1="111.4" y1="1979.12" x2="117.3" y2="1979.12" stroke="#333333" stroke-width="4.4"/>
<text transform="translate(106.3,1986.32) scale(1,1.04)" font-size="20.1" text-anchor="end">CCL19</text>
<line x1="118.4" y1="2019" x2="447.6" y2="2019" stroke="#BEBEBE" stroke-width="1.6" stroke-dasharray="8 6.1"/>
<line x1="458" y1="2018.5" x2="788.9" y2="2018.5" stroke="#BEBEBE" stroke-width="1.6" stroke-dasharray="8 6.1"/>
<line x1="111.4" y1="2019" x2="117.3" y2="2019" stroke="#333333" stroke-width="4.4"/>
<text transform="translate(106.3,2026.2) scale(1,1.04)" font-size="20.1" text-anchor="end">FOXJ1</text>
<line x1="118.4" y1="2058.88" x2="447.6" y2="2058.88" stroke="#BEBEBE" stroke-width="1.6" stroke-dasharray="8 6.1"/>
<line x1="458" y1="2058.2" x2="788.9" y2="2058.2" stroke="#BEBEBE" stroke-width="1.6" stroke-dasharray="8 6.1"/>
<line x1="111.4" y1="2058.88" x2="117.3" y2="2058.88" stroke="#333333" stroke-width="4.4"/>
<text transform="translate(106.3,2066.08) scale(1,1.04)" font-size="20.1" text-anchor="end">GABRP</text>
<line x1="118.4" y1="2098.76" x2="447.6" y2="2098.76" stroke="#BEBEBE" stroke-width="1.6" stroke-dasharray="8 6.1"/>
<line x1="458" y1="2097.9" x2="788.9" y2="2097.9" stroke="#BEBEBE" stroke-width="1.6" stroke-dasharray="8 6.1"/>
<line x1="111.4" y1="2098.76" x2="117.3" y2="2098.76" stroke="#333333" stroke-width="4.4"/>
<text transform="translate(106.3,2105.96) scale(1,1.04)" font-size="20.1" text-anchor="end">MZB1</text>
<line x1="118.4" y1="2138.64" x2="447.6" y2="2138.64" stroke="#BEBEBE" stroke-width="1.6" stroke-dasharray="8 6.1"/>
<line x1="458" y1="2137.6" x2="788.9" y2="2137.6" stroke="#BEBEBE" stroke-width="1.6" stroke-dasharray="8 6.1"/>
<line x1="111.4" y1="2138.64" x2="117.3" y2="2138.64" stroke="#333333" stroke-width="4.4"/>
<text transform="translate(106.3,2145.84) scale(1,1.04)" font-size="20.1" text-anchor="end">AQP1</text>
<line x1="118.4" y1="2178.52" x2="447.6" y2="2178.52" stroke="#BEBEBE" stroke-width="1.6" stroke-dasharray="8 6.1"/>
<line x1="458" y1="2177.3" x2="788.9" y2="2177.3" stroke="#BEBEBE" stroke-width="1.6" stroke-dasharray="8 6.1"/>
<line x1="111.4" y1="2178.52" x2="117.3" y2="2178.52" stroke="#333333" stroke-width="4.4"/>
<text transform="translate(106.3,2185.72) scale(1,1.04)" font-size="20.1" text-anchor="end">RAMP3</text>
<line x1="282.9" y1="1796.6" x2="282.9" y2="2201" stroke="#BEBEBE" stroke-width="1.6" stroke-dasharray="8 6.1"/>
<line x1="623.2" y1="1798.3" x2="623.2" y2="2199.8" stroke="#BEBEBE" stroke-width="1.6" stroke-dasharray="8 6.1"/>
<rect x="118.4" y="1796.6" width="329.2" height="404.4" fill="none" stroke="#1A1A1A" stroke-width="2.6"/>
<rect x="458" y="1798.3" width="330.9" height="401.5" fill="none" stroke="#1A1A1A" stroke-width="2.6"/>
<ellipse cx="279.8" cy="1822" rx="8" ry="9.55" fill="#E0401E"/>
<ellipse cx="279.6" cy="1861.58" rx="7.7" ry="9.25" fill="#E0401E"/>
<ellipse cx="280.4" cy="1901.36" rx="6.8" ry="8" fill="#E0401E"/>
<ellipse cx="280.4" cy="1940.84" rx="5.85" ry="6.95" fill="#E0401E"/>
<ellipse cx="280.4" cy="1980.72" rx="5.25" ry="6.5" fill="#E0401E"/>
<ellipse cx="280.4" cy="2020.3" rx="5.5" ry="6.75" fill="#E0401E"/>
<ellipse cx="280.7" cy="2060.18" rx="4.6" ry="5.5" fill="#E0401E"/>
<ellipse cx="280.7" cy="2100.16" rx="4.9" ry="5.85" fill="#E0401E"/>
<ellipse cx="280.7" cy="2140.24" rx="5.5" ry="6.5" fill="#E0401E"/>
<ellipse cx="280.4" cy="2180.32" rx="5.5" ry="6.5" fill="#E0401E"/>
<ellipse cx="622.2" cy="1820.4" rx="3.1" ry="3.7" fill="#3B66D0"/>
<ellipse cx="622.2" cy="1861.28" rx="3.4" ry="4" fill="#3B66D0"/>
<ellipse cx="621.8" cy="1900.56" rx="4.6" ry="5.5" fill="#3B66D0"/>
<ellipse cx="621.5" cy="1940.64" rx="5.85" ry="7.1" fill="#3B66D0"/>
<ellipse cx="621.2" cy="1980.72" rx="5.85" ry="7.1" fill="#3B66D0"/>
<ellipse cx="621.5" cy="2019.9" rx="4.95" ry="5.85" fill="#3B66D0"/>
<ellipse cx="621.2" cy="2060.38" rx="6.15" ry="7.4" fill="#3B66D0"/>
<ellipse cx="620.9" cy="2099.26" rx="6.15" ry="7.4" fill="#3B66D0"/>
<ellipse cx="621.5" cy="2138.74" rx="4.6" ry="5.5" fill="#3B66D0"/>
<ellipse cx="621.5" cy="2178.82" rx="4.6" ry="5.5" fill="#3B66D0"/>
<rect x="281" y="2201" width="4.5" height="6.8" fill="#333333"/>
<rect x="620.7" y="2199.8" width="4.4" height="8.2" fill="#333333"/>
<text transform="translate(257.32,2264) rotate(-45)" font-size="20.92">CESC</text>
<text transform="translate(597.32,2264) rotate(-45)" font-size="20.92">CESC</text>
<text x="455.2" y="2289.7" font-size="24.7" text-anchor="middle">Cancer type</text>
<text transform="translate(22.3,1999) rotate(-90)" font-size="24.7" text-anchor="middle">Symbol</text>
<text x="817.5" y="1870.3" font-size="25">SCNA type</text>
<ellipse cx="834.5" cy="1904.5" rx="3.7" ry="3.9" fill="#3B66D0"/>
<ellipse cx="833.7" cy="1940.6" rx="3.4" ry="3.6" fill="#E0401E"/>
<text x="865.3" y="1911" font-size="20.7">Deletion</text>
<text x="865.3" y="1947.4" font-size="20.7">Amplification</text>
<text transform="translate(817.5,2023.3) scale(1,1.04)" font-size="25">CNV (%)</text>
<ellipse cx="833.6" cy="2058" rx="4" ry="4.3" fill="#000"/>
<ellipse cx="832" cy="2094" rx="8" ry="8.7" fill="#000"/>
<ellipse cx="831.7" cy="2131" rx="9.9" ry="10.5" fill="#000"/>
<text transform="translate(865.3,2063.8) scale(1,1.04)" font-size="20.7">2</text>
<text transform="translate(865.3,2100.2) scale(1,1.04)" font-size="20.7">28</text>
<text transform="translate(865.3,2136.2) scale(1,1.04)" font-size="20.7">55</text>
</g>
<g id="panelF">
<defs><linearGradient id="rwb" x1="0" y1="0" x2="0" y2="1"><stop offset="0" stop-color="#FF1E0A"/><stop offset="0.0625" stop-color="#FF4628"/><stop offset="0.125" stop-color="#FF6846"/><stop offset="0.1875" stop-color="#FF8464"/><stop offset="0.25" stop-color="#FF9E81"/><stop offset="0.3125" stop-color="#FFB7A0"/><stop offset="0.375" stop-color="#FFCFBF"/><stop offset="0.4375" stop-color="#FFE7DE"/><stop offset="0.5" stop-color="#FFFFFF"/><stop offset="0.5625" stop-color="#EEE2FF"/><stop offset="0.625" stop-color="#DCC4FF"/><stop offset="0.6875" stop-color="#C8A8FF"/><stop offset="0.75" stop-color="#B38BFF"/><stop offset="0.8125" stop-color="#9B6FFF"/><stop offset="0.875" stop-color="#7E52FF"/><stop offset="0.9375" stop-color="#5932FF"/><stop offset="1" stop-color="#1E0AFF"/></linearGradient><clipPath id="fclip"><rect x="1660" y="1755" width="146.3" height="520"/></clipPath></defs>
<text x="1090" y="1740.6" font-size="30.72">Correlations of CNV with mRNA expression</text>
<line x1="1149.6" y1="1787.4" x2="1627.8" y2="1787.4" stroke="#BEBEBE" stroke-width="1.6" stroke-dasharray="8 6.1"/>
<line x1="1142.4" y1="1787.4" x2="1148.4" y2="1787.4" stroke="#333333" stroke-width="4.4"/>
<text transform="translate(1136.5,1795) scale(1,1.04)" font-size="21.1" text-anchor="end">CA2</text>
<line x1="1149.6" y1="1833.53" x2="1627.8" y2="1833.53" stroke="#BEBEBE" stroke-width="1.6" stroke-dasharray="8 6.1"/>
<line x1="1142.4" y1="1833.53" x2="1148.4" y2="1833.53" stroke="#333333" stroke-width="4.4"/>
<text transform="translate(1136.5,1841.13) scale(1,1.04)" font-size="21.1" text-anchor="end">FOXJ1</text>
<line x1="1149.6" y1="1879.66" x2="1627.8" y2="1879.66" stroke="#BEBEBE" stroke-width="1.6" stroke-dasharray="8 6.1"/>
<line x1="1142.4" y1="1879.66" x2="1148.4" y2="1879.66" stroke="#333333" stroke-width="4.4"/>
<text transform="translate(1136.5,1887.26) scale(1,1.04)" font-size="21.1" text-anchor="end">ACKR1</text>
<line x1="1149.6" y1="1925.79" x2="1627.8" y2="1925.79" stroke="#BEBEBE" stroke-width="1.6" stroke-dasharray="8 6.1"/>
<line x1="1142.4" y1="1925.79" x2="1148.4" y2="1925.79" stroke="#333333" stroke-width="4.4"/>
<text transform="translate(1136.5,1933.39) scale(1,1.04)" font-size="21.1" text-anchor="end">GABRP</text>
<line x1="1149.6" y1="1971.92" x2="1627.8" y2="1971.92" stroke="#BEBEBE" stroke-width="1.6" stroke-dasharray="8 6.1"/>
<line x1="1142.4" y1="1971.92" x2="1148.4" y2="1971.92" stroke="#333333" stroke-width="4.4"/>
<text transform="translate(1136.5,1979.52) scale(1,1.04)" font-size="21.1" text-anchor="end">MZB1</text>
<line x1="1149.6" y1="2018.05" x2="1627.8" y2="2018.05" stroke="#BEBEBE" stroke-width="1.6" stroke-dasharray="8 6.1"/>
<line x1="1142.4" y1="2018.05" x2="1148.4" y2="2018.05" stroke="#333333" stroke-width="4.4"/>
<text transform="translate(1136.5,2025.65) scale(1,1.04)" font-size="21.1" text-anchor="end">RAMP3</text>
<line x1="1149.6" y1="2064.18" x2="1627.8" y2="2064.18" stroke="#BEBEBE" stroke-width="1.6" stroke-dasharray="8 6.1"/>
<line x1="1142.4" y1="2064.18" x2="1148.4" y2="2064.18" stroke="#333333" stroke-width="4.4"/>
<text transform="translate(1136.5,2071.78) scale(1,1.04)" font-size="21.1" text-anchor="end">APOD</text>
<line x1="1149.6" y1="2110.31" x2="1627.8" y2="2110.31" stroke="#BEBEBE" stroke-width="1.6" stroke-dasharray="8 6.1"/>
<line x1="1142.4" y1="2110.31" x2="1148.4" y2="2110.31" stroke="#333333" stroke-width="4.4"/>
<text transform="translate(1136.5,2117.91) scale(1,1.04)" font-size="21.1" text-anchor="end">CCL19</text>
<line x1="1149.6" y1="2156.44" x2="1627.8" y2="2156.44" stroke="#BEBEBE" stroke-width="1.6" stroke-dasharray="8 6.1"/>
<line x1="1142.4" y1="2156.44" x2="1148.4" y2="2156.44" stroke="#333333" stroke-width="4.4"/>
<text transform="translate(1136.5,2164.04) scale(1,1.04)" font-size="21.1" text-anchor="end">PTGDS</text>
<line x1="1149.6" y1="2202.57" x2="1627.8" y2="2202.57" stroke="#BEBEBE" stroke-width="1.6" stroke-dasharray="8 6.1"/>
<line x1="1142.4" y1="2202.57" x2="1148.4" y2="2202.57" stroke="#333333" stroke-width="4.4"/>
<text transform="translate(1136.5,2210.17) scale(1,1.04)" font-size="21.1" text-anchor="end">AQP1</text>
<line x1="1388.3" y1="1760.8" x2="1388.3" y2="2229.2" stroke="#BEBEBE" stroke-width="1.6" stroke-dasharray="8 6.1"/>
<rect x="1149.6" y="1760.8" width="478.2" height="468.4" fill="none" stroke="#1A1A1A" stroke-width="2.6"/>
<ellipse cx="1384.5" cy="1790.8" rx="7.35" ry="9.05" fill="#F9D9D0" stroke="#000" stroke-width="6"/>
<ellipse cx="1384.5" cy="1836.93" rx="7.35" ry="9.05" fill="#F9D9D0" stroke="#000" stroke-width="6"/>
<ellipse cx="1386.2" cy="1881.76" rx="4.75" ry="6.08" fill="#fff" stroke="#BEBEBE" stroke-width="5.58"/>
<ellipse cx="1386.2" cy="1927.79" rx="4.75" ry="6.08" fill="#fff" stroke="#BEBEBE" stroke-width="5.58"/>
<ellipse cx="1386.2" cy="1973.92" rx="4.75" ry="6.08" fill="#fff" stroke="#BEBEBE" stroke-width="5.58"/>
<ellipse cx="1387.7" cy="2018.65" rx="4.3" ry="4.6" fill="#BEBEBE"/>
<ellipse cx="1387.7" cy="2065.08" rx="4.8" ry="5.6" fill="#BEBEBE"/>
<ellipse cx="1386.4" cy="2111.61" rx="4.33" ry="5.4" fill="#fff" stroke="#BEBEBE" stroke-width="5.07"/>
<ellipse cx="1386.1" cy="2157.84" rx="4.78" ry="5.8" fill="#fff" stroke="#BEBEBE" stroke-width="5.33"/>
<ellipse cx="1385.8" cy="2204.27" rx="5.25" ry="6.62" fill="#E9E6FA" stroke="#BEBEBE" stroke-width="6.62"/>
<rect x="1384.4" y="2229.2" width="4.4" height="7.4" fill="#333333"/>
<text transform="translate(1349.97,2292.46) rotate(-41)" font-size="22.1">CESC</text>
<text x="1391.3" y="2319.9" font-size="25.9" text-anchor="middle">Cancer type</text>
<text transform="translate(1047.6,1995.2) rotate(-90)" font-size="25.5" text-anchor="middle">Symbol</text>
<g clip-path="url(#fclip)">
<text x="1671.2" y="1787.2" font-size="26.3">Spearman cor.</text>
<text x="1671.9" y="2176.6" font-size="26.3">−Log10(FDR)</text>
</g>
<rect x="1671.2" y="1804.8" width="30.7" height="153.7" fill="url(#rwb)"/>
<text transform="translate(1715.9,1811.6) scale(1,1.04)" font-size="21">1</text>
<text transform="translate(1715.9,1889.1) scale(1,1.04)" font-size="21">0</text>
<text transform="translate(1715.9,1967) scale(1,1.04)" font-size="21">−1</text>
<text transform="translate(1671.2,2028.6) scale(1,1.04)" font-size="25.4">FDR</text>
<ellipse cx="1684.7" cy="2061.8" rx="5.9" ry="6.3" fill="#000"/>
<ellipse cx="1684.7" cy="2093" rx="5.9" ry="6.3" fill="#BEBEBE"/>
<text transform="translate(1715.5,2068.6) scale(1,1.04)" font-size="21.5">&lt;=0.05</text>
<text transform="translate(1715.5,2099.8) scale(1,1.04)" font-size="21.5">&gt;0.05</text>
<circle cx="1684.7" cy="2211" r="7.2" fill="#fff" stroke="#000" stroke-width="6.3"/>
<circle cx="1684.3" cy="2245.1" r="8.75" fill="#fff" stroke="#000" stroke-width="6.2"/>
<text transform="translate(1719.8,2216.2) scale(1,1.04)" font-size="21.5">0.05</text>
<text transform="translate(1719.8,2249.4) scale(1,1.04)" font-size="21.5">0.01</text>
</g>
<g id="panelG">
<text x="1948.1" y="1717.1" font-size="19.04">Correlation between methylation and</text>
<text x="1948.1" y="1738.6" font-size="19.04">mRNA expression</text>
<line x1="1948.7" y1="1785.1" x2="2250.9" y2="1785.1" stroke="#BEBEBE" stroke-width="1.5" stroke-dasharray="8 6.2"/>
<line x1="1944.2" y1="1785.1" x2="1947.6" y2="1785.1" stroke="#333333" stroke-width="3.4"/>
<text transform="translate(1940.8,1790) scale(1,1.04)" font-size="13.6" text-anchor="end">CA2</text>
<line x1="1948.7" y1="1842.46" x2="2250.9" y2="1842.46" stroke="#BEBEBE" stroke-width="1.5" stroke-dasharray="8 6.2"/>
<line x1="1944.2" y1="1842.46" x2="1947.6" y2="1842.46" stroke="#333333" stroke-width="3.4"/>
<text transform="translate(1940.8,1847.36) scale(1,1.04)" font-size="13.6" text-anchor="end">RAMP3</text>
<line x1="1948.7" y1="1899.82" x2="2250.9" y2="1899.82" stroke="#BEBEBE" stroke-width="1.5" stroke-dasharray="8 6.2"/>
<line x1="1944.2" y1="1899.82" x2="1947.6" y2="1899.82" stroke="#333333" stroke-width="3.4"/>
<text transform="translate(1940.8,1904.72) scale(1,1.04)" font-size="13.6" text-anchor="end">APOD</text>
<line x1="1948.7" y1="1957.18" x2="2250.9" y2="1957.18" stroke="#BEBEBE" stroke-width="1.5" stroke-dasharray="8 6.2"/>
<line x1="1944.2" y1="1957.18" x2="1947.6" y2="1957.18" stroke="#333333" stroke-width="3.4"/>
<text transform="translate(1940.8,1962.08) scale(1,1.04)" font-size="13.6" text-anchor="end">CCL19</text>
<line x1="1948.7" y1="2014.54" x2="2250.9" y2="2014.54" stroke="#BEBEBE" stroke-width="1.5" stroke-dasharray="8 6.2"/>
<line x1="1944.2" y1="2014.54" x2="1947.6" y2="2014.54" stroke="#333333" stroke-width="3.4"/>
<text transform="translate(1940.8,2019.44) scale(1,1.04)" font-size="13.6" text-anchor="end">AQP1</text>
<line x1="1948.7" y1="2071.9" x2="2250.9" y2="2071.9" stroke="#BEBEBE" stroke-width="1.5" stroke-dasharray="8 6.2"/>
<line x1="1944.2" y1="2071.9" x2="1947.6" y2="2071.9" stroke="#333333" stroke-width="3.4"/>
<text transform="translate(1940.8,2076.8) scale(1,1.04)" font-size="13.6" text-anchor="end">PTGDS</text>
<line x1="1948.7" y1="2129.26" x2="2250.9" y2="2129.26" stroke="#BEBEBE" stroke-width="1.5" stroke-dasharray="8 6.2"/>
<line x1="1944.2" y1="2129.26" x2="1947.6" y2="2129.26" stroke="#333333" stroke-width="3.4"/>
<text transform="translate(1940.8,2134.16) scale(1,1.04)" font-size="13.6" text-anchor="end">GABRP</text>
<line x1="1948.7" y1="2186.62" x2="2250.9" y2="2186.62" stroke="#BEBEBE" stroke-width="1.5" stroke-dasharray="8 6.2"/>
<line x1="1944.2" y1="2186.62" x2="1947.6" y2="2186.62" stroke="#333333" stroke-width="3.4"/>
<text transform="translate(1940.8,2191.52) scale(1,1.04)" font-size="13.6" text-anchor="end">FOXJ1</text>
<line x1="2099.5" y1="1752.9" x2="2099.5" y2="2219.9" stroke="#BEBEBE" stroke-width="1.5" stroke-dasharray="8 6.2"/>
<rect x="1948.7" y="1752.9" width="302.2" height="467" fill="none" stroke="#1A1A1A" stroke-width="2"/>
<ellipse cx="2098.8" cy="1786.3" rx="4.95" ry="5.1" fill="#000"/>
<ellipse cx="2098.8" cy="1842.86" rx="4.3" ry="4.45" fill="#BEBEBE"/>
<ellipse cx="2098.8" cy="1900.02" rx="4.8" ry="4.95" fill="#000"/>
<ellipse cx="2098.8" cy="1957.78" rx="5.2" ry="5.35" fill="#000"/>
<ellipse cx="2098.6" cy="2015.34" rx="5.45" ry="5.6" fill="#000"/>
<ellipse cx="2098.6" cy="2072.7" rx="5.7" ry="5.85" fill="#000"/>
<ellipse cx="2097.7" cy="2131.86" rx="7.45" ry="8.35" fill="#000"/>
<ellipse cx="2097.7" cy="2131.86" rx="1.5" ry="2.6" fill="#6A5AE0"/>
<ellipse cx="2097.7" cy="2188.22" rx="7.45" ry="8.35" fill="#000"/>
<ellipse cx="2097.7" cy="2188.22" rx="1.5" ry="2.6" fill="#6A5AE0"/>
<rect x="2098.8" y="2225" width="4.2" height="3.9" fill="#333333"/>
<text transform="translate(2062.14,2285.53) rotate(-41)" font-size="22.07">CESC</text>
<text x="2103.6" y="2313" font-size="25.9" text-anchor="middle">Cancer type</text>
<text transform="translate(1885.6,1984.5) rotate(-90)" font-size="15.9" text-anchor="middle">Symbol</text>
<text x="2276.2" y="1826.7" font-size="16.2">Spearman cor.</text>
<rect x="2276.2" y="1837.6" width="19.2" height="95.3" fill="url(#rwb)"/>
<text transform="translate(2304,1842.2) scale(1,1.04)" font-size="13">1</text>
<text transform="translate(2304,1890.1) scale(1,1.04)" font-size="13">0</text>
<text transform="translate(2304,1938.9) scale(1,1.04)" font-size="13">−1</text>
<text transform="translate(2276.2,1976.5) scale(1,1.04)" font-size="15.7">FDR</text>
<ellipse cx="2284.6" cy="1997.2" rx="5" ry="5.1" fill="#000"/>
<ellipse cx="2284.6" cy="2017.2" rx="5" ry="5.1" fill="#BEBEBE"/>
<text transform="translate(2304,2001.8) scale(1,1.04)" font-size="13.6">&lt;=0.05</text>
<text transform="translate(2304,2021) scale(1,1.04)" font-size="13.6">&gt;0.05</text>
<text transform="translate(2276.2,2069.6) scale(1,1.04)" font-size="15.7">FDR</text>
<ellipse cx="2284.5" cy="2090.4" rx="5" ry="5.1" fill="#000"/>
<text transform="translate(2304,2094.9) scale(1,1.04)" font-size="13.6">0.05</text>
<ellipse cx="2284.5" cy="2109.8" rx="5" ry="5.1" fill="#000"/>
<text transform="translate(2304,2114.1) scale(1,1.04)" font-size="13.6">0.01</text>
<ellipse cx="2284.5" cy="2128.8" rx="5.2" ry="5.3" fill="#000"/>
<text transform="translate(2304,2133.1) scale(1,1.04)" font-size="13.6">0.001</text>
<ellipse cx="2284.5" cy="2148.7" rx="5.65" ry="5.75" fill="#000"/>
<text transform="translate(2304,2153.2) scale(1,1.04)" font-size="13.6">&lt;=0.0001</text>
</g>
</svg>
</body>
</html>
